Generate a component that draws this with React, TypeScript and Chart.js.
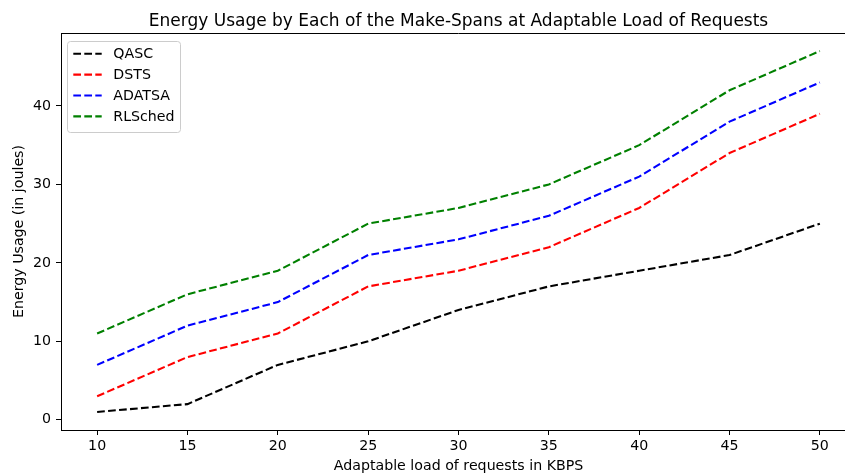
import { useEffect, useRef } from "react";
import { Chart, registerables } from "chart.js";
Chart.register(...registerables);

const loads = [10, 15, 20, 25, 30, 35, 40, 45, 50];
const qasc = [1, 2, 7, 10, 14, 17, 19, 21, 25];
const dsts = [3, 8, 11, 17, 19, 22, 27, 34, 39];
const adatsa = [7, 12, 15, 21, 23, 26, 31, 38, 43];
const rlsched = [11, 16, 19, 25, 27, 30, 35, 42, 47];
const seriesNames = ["QASC", "DSTS", "ADATSA", "RLSched"];
const seriesColors = ["#000000", "#ff0000", "#0000ff", "#008000"];
const xTicks = [10, 15, 20, 25, 30, 35, 40, 45, 50];
const yTicks = [0, 10, 20, 30, 40];
const titleText = "Energy Usage by Each of the Make-Spans at Adaptable Load of Requests";
const xLabelText = "Adaptable load of requests in KBPS";
const yLabelText = "Energy Usage (in joules)";

const FONT = "'DejaVu Sans', sans-serif";
const CANVAS_W = 870;
const CANVAS_H = 476;
const DASH = [7.7, 3.3];
const SMALL = 14.2;
const BIG = 17;

const overlayPlugin = {
  id: "overlay",
  afterDraw(chart: any) {
    const ctx = chart.ctx as CanvasRenderingContext2D;
    const a = chart.chartArea;
    ctx.save();
    // top and right spines
    ctx.strokeStyle = "#000";
    ctx.lineWidth = 1;
    ctx.beginPath();
    ctx.moveTo(a.left, Math.round(a.top) + 0.5);
    ctx.lineTo(a.right, Math.round(a.top) + 0.5);
    ctx.moveTo(Math.round(a.right) + 0.5, a.top);
    ctx.lineTo(Math.round(a.right) + 0.5, a.bottom);
    ctx.stroke();

    ctx.fillStyle = "#000";
    // title
    ctx.font = `${BIG}px ${FONT}`;
    ctx.textAlign = "center";
    ctx.textBaseline = "alphabetic";
    ctx.fillText(titleText, (a.left + a.right) / 2, 25.5);
    // x label
    ctx.font = `${SMALL}px ${FONT}`;
    ctx.fillText(xLabelText, (a.left + a.right) / 2, 469.5);
    // y label
    ctx.save();
    ctx.translate(23, (a.top + a.bottom) / 2);
    ctx.rotate(-Math.PI / 2);
    ctx.fillText(yLabelText, 0, 0);
    ctx.restore();

    // legend
    const bx = 67.5, by = 41.5, bw = 113, bh = 91, r = 3;
    ctx.beginPath();
    ctx.moveTo(bx + r, by);
    ctx.lineTo(bx + bw - r, by);
    ctx.arcTo(bx + bw, by, bx + bw, by + r, r);
    ctx.lineTo(bx + bw, by + bh - r);
    ctx.arcTo(bx + bw, by + bh, bx + bw - r, by + bh, r);
    ctx.lineTo(bx + r, by + bh);
    ctx.arcTo(bx, by + bh, bx, by + bh - r, r);
    ctx.lineTo(bx, by + r);
    ctx.arcTo(bx, by, bx + r, by, r);
    ctx.closePath();
    ctx.fillStyle = "rgba(255,255,255,0.8)";
    ctx.fill();
    ctx.strokeStyle = "#cccccc";
    ctx.lineWidth = 1;
    ctx.stroke();

    const ds = chart.data.datasets;
    ctx.font = `${SMALL}px ${FONT}`;
    ctx.textAlign = "left";
    ctx.textBaseline = "middle";
    for (let i = 0; i < ds.length; i++) {
      const cy = 53.7 + i * 20.9;
      ctx.strokeStyle = ds[i].borderColor;
      ctx.lineWidth = 2.08;
      ctx.setLineDash(DASH);
      ctx.beginPath();
      ctx.moveTo(73.3, cy);
      ctx.lineTo(101.7, cy);
      ctx.stroke();
      ctx.setLineDash([]);
      ctx.fillStyle = "#000";
      ctx.fillText(ds[i].label, 113.3, cy + 0.5);
    }
    ctx.restore();
  },
};

export default function App() {
  const ref = useRef<HTMLCanvasElement | null>(null);
  useEffect(() => {
    if (!ref.current) return;
    const series = [qasc, dsts, adatsa, rlsched];
    const chart = new Chart(ref.current, {
      type: "line",
      data: {
        datasets: series.map((vals, i) => ({
          label: seriesNames[i],
          data: loads.map((x, j) => ({ x, y: vals[j] })),
          borderColor: seriesColors[i],
          backgroundColor: seriesColors[i],
          borderWidth: 2.08,
          borderDash: DASH,
          pointRadius: 0,
          pointHoverRadius: 0,
          tension: 0,
          fill: false,
        })),
      },
      options: {
        animation: false,
        responsive: false,
        maintainAspectRatio: false,
        devicePixelRatio: 1,
        layout: { padding: { left: 0, top: 33, right: CANVAS_W - 856, bottom: 0 } },
        plugins: {
          legend: { display: false },
          title: { display: false },
          tooltip: { enabled: false },
        },
        scales: {
          x: {
            type: "linear",
            min: 8,
            max: 52,
            afterBuildTicks: (s: any) => {
              s.ticks = xTicks.map((v) => ({ value: v }));
            },
            afterFit: (s: any) => {
              s.height = CANVAS_H - 430;
            },
            grid: {
              display: true,
              drawOnChartArea: false,
              drawTicks: true,
              tickLength: 5,
              tickColor: "#000",
              lineWidth: 1,
            },
            border: { display: true, color: "#000", width: 1 },
            ticks: {
              color: "#000",
              font: { family: FONT, size: SMALL },
              padding: 3.1,
              maxRotation: 0,
              autoSkip: false,
              callback: (v: any) => String(v),
            },
          },
          y: {
            type: "linear",
            min: -1.3,
            max: 49.3,
            afterBuildTicks: (s: any) => {
              s.ticks = yTicks.map((v) => ({ value: v }));
            },
            afterFit: (s: any) => {
              s.width = 61;
            },
            grid: {
              display: true,
              drawOnChartArea: false,
              drawTicks: true,
              tickLength: 5,
              tickColor: "#000",
              lineWidth: 1,
            },
            border: { display: true, color: "#000", width: 1 },
            ticks: {
              color: "#000",
              font: { family: FONT, size: SMALL },
              padding: 5,
              autoSkip: false,
              callback: (v: any) => String(v),
            },
          },
        },
      },
      plugins: [overlayPlugin],
    });
    return () => chart.destroy();
  }, []);

  return (
    <div
      style={{
        position: "fixed",
        left: 0,
        top: 0,
        width: 845,
        height: 476,
        overflow: "hidden",
        background: "#fff",
      }}
    >
      <canvas
        ref={ref}
        width={CANVAS_W}
        height={CANVAS_H}
        style={{ display: "block", width: CANVAS_W, height: CANVAS_H }}
      />
    </div>
  );
}
